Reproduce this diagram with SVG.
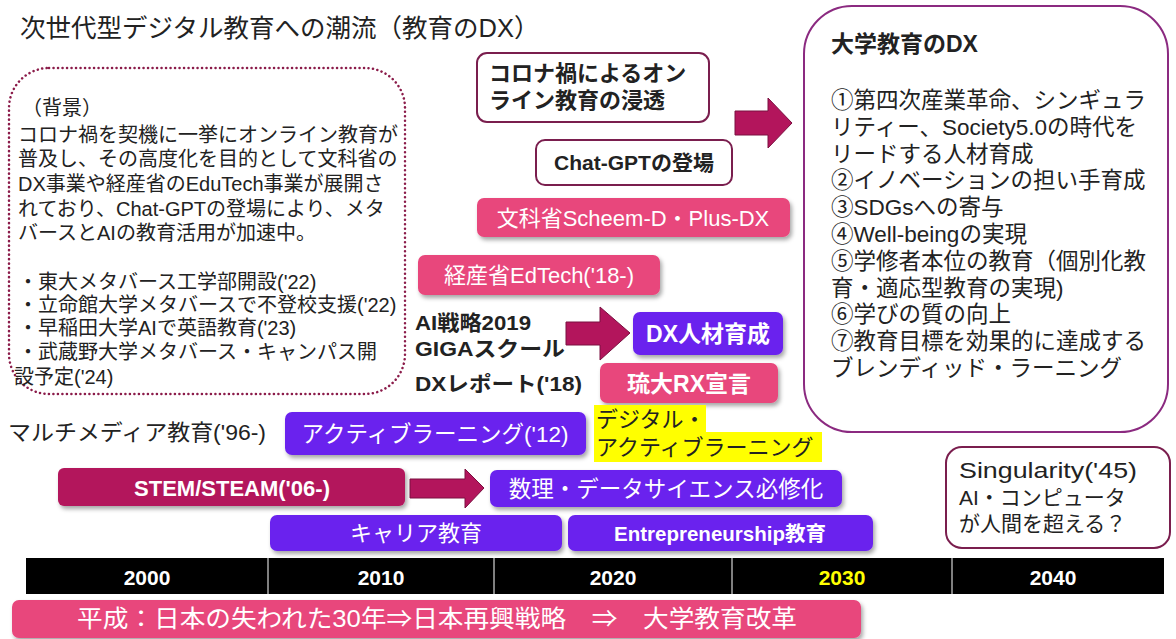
<svg xmlns="http://www.w3.org/2000/svg" width="1176" height="639" viewBox="0 0 1176 639">
<defs>
<filter id="sh" x="-10%" y="-20%" width="125%" height="150%">
<feDropShadow dx="2" dy="3" stdDeviation="2" flood-color="#000" flood-opacity="0.35"/>
</filter>
<style>
text{font-family:"Liberation Sans","Noto Sans CJK JP",sans-serif}
.t{fill:#222}
.w{fill:#fff}
.b{font-weight:700}
.m{text-anchor:middle}
.pink{fill:#E8467C}
.purple{fill:#6A22EE}
.crim{fill:#B3155C}
.wbox{fill:#fff;stroke:#7A1E4E;stroke-width:2}
.arrow{fill:#B3155C;stroke:#7A1040;stroke-width:1}
</style>
</defs>
<rect width="1176" height="639" fill="#fff"/>

<g id="title">
<text x="20" y="37" font-size="25.5" class="t">次世代型デジタル教育への潮流（教育のDX）</text>
</g>

<g id="background-box">
<rect x="9" y="68" width="396" height="326" rx="40" fill="none" stroke="#8B1C4A" stroke-width="2.5" stroke-dasharray="0.1 4.4" stroke-linecap="round"/>
<g font-size="20" class="t">
<text x="22" y="115">（背景）</text>
<text x="18" y="142">コロナ禍を契機に一挙にオンライン教育が</text>
<text x="18" y="166">普及し、その高度化を目的として文科省の</text>
<text x="18" y="191">DX事業や経産省のEduTech事業が展開さ</text>
<text x="18" y="216">れており、Chat-GPTの登場により、メタ</text>
<text x="18" y="240">バースとAIの教育活用が加速中。</text>
<text x="18" y="289">・東大メタバース工学部開設('22)</text>
<text x="18" y="312">・立命館大学メタバースで不登校支援('22)</text>
<text x="18" y="335">・早稲田大学AIで英語教育('23)</text>
<text x="18" y="359">・武蔵野大学メタバース・キャンパス開</text>
<text x="14" y="384">設予定('24)</text>
</g>
</g>

<g id="corona">
<rect x="477" y="53" width="232" height="69" rx="10" class="wbox"/>
<text x="489" y="81" font-size="22" class="t b">コロナ禍によるオン</text>
<text x="489" y="108" font-size="22" class="t b">ライン教育の浸透</text>
</g>

<g id="chatgpt">
<rect x="536" y="140" width="196" height="45" rx="9" class="wbox"/>
<text x="634" y="170" font-size="21" class="t b m">Chat-GPTの登場</text>
</g>

<g id="mext">
<rect x="477" y="198" width="313" height="39" rx="7" class="pink" filter="url(#sh)"/>
<text x="633" y="226" font-size="22" class="w m">文科省Scheem-D・Plus-DX</text>
</g>

<g id="meti">
<rect x="418" y="255" width="242" height="40" rx="7" class="pink" filter="url(#sh)"/>
<text x="539" y="283" font-size="22" class="w m">経産省EdTech('18-)</text>
</g>

<g id="policies">
<text x="415" y="330" font-size="21" class="t b" textLength="116" lengthAdjust="spacingAndGlyphs">AI戦略2019</text>
<text x="415" y="356" font-size="21" class="t b" textLength="150" lengthAdjust="spacingAndGlyphs">GIGAスクール</text>
<text x="415" y="391" font-size="21" class="t b" textLength="167" lengthAdjust="spacingAndGlyphs">DXレポート('18)</text>
</g>

<g id="dx-jinzai">
<rect x="633" y="312" width="150" height="43" rx="7" class="purple" filter="url(#sh)"/>
<text x="708" y="342" font-size="23" class="w b m">DX人材育成</text>
</g>

<g id="ryudai">
<rect x="600" y="363" width="178" height="40" rx="7" class="pink" filter="url(#sh)"/>
<text x="689" y="392" font-size="23" class="w b m">琉大RX宣言</text>
</g>

<g id="univ-dx">
<rect x="804" y="6" width="364" height="426" rx="48" fill="#fff" stroke="#8B2A80" stroke-width="2"/>
<text x="831" y="52" font-size="23" class="t b">大学教育のDX</text>
<g font-size="22.5" class="t">
<text x="831" y="108">①第四次産業革命、シンギュラ</text>
<text x="831" y="135">リティー、Society5.0の時代を</text>
<text x="831" y="162">リードする人材育成</text>
<text x="831" y="188">②イノベーションの担い手育成</text>
<text x="831" y="215">③SDGsへの寄与</text>
<text x="831" y="242">④Well-beingの実現</text>
<text x="831" y="269">⑤学修者本位の教育（個別化教</text>
<text x="831" y="296">育・適応型教育の実現)</text>
<text x="831" y="322">⑥学びの質の向上</text>
<text x="831" y="349">⑦教育目標を効果的に達成する</text>
<text x="831" y="376">ブレンディッド・ラーニング</text>
</g>
</g>

<g id="multimedia">
<text x="8" y="440" font-size="22" class="t" textLength="258" lengthAdjust="spacingAndGlyphs">マルチメディア教育('96-)</text>
</g>

<g id="active-learning">
<rect x="285" y="412" width="301" height="43" rx="7" class="purple" filter="url(#sh)"/>
<text x="435" y="442" font-size="22.5" class="w m">アクティブラーニング('12)</text>
</g>

<g id="digital-al">
<rect x="594" y="405" width="112" height="28" fill="#FFFF00"/>
<rect x="594" y="432" width="228" height="30" fill="#FFFF00"/>
<text x="596" y="427" font-size="22" class="t">デジタル・</text>
<text x="596" y="455" font-size="22" class="t">アクティブラーニング</text>
</g>

<g id="stem">
<rect x="58" y="468" width="347" height="38" rx="6" class="crim" filter="url(#sh)"/>
<text x="232" y="496" font-size="22" class="w b m">STEM/STEAM('06-)</text>
</g>

<g id="datascience">
<rect x="490" y="470" width="352" height="37" rx="7" class="purple" filter="url(#sh)"/>
<text x="666" y="497" font-size="22.5" class="w m">数理・データサイエンス必修化</text>
</g>

<g id="career">
<rect x="270" y="515" width="292" height="36" rx="7" class="purple" filter="url(#sh)"/>
<text x="416" y="541" font-size="22" class="w m">キャリア教育</text>
</g>

<g id="entrepreneurship">
<rect x="568" y="515" width="305" height="36" rx="7" class="purple" filter="url(#sh)"/>
<text x="720" y="541" font-size="20.5" class="w b m">Entrepreneurship教育</text>
</g>

<g id="singularity">
<rect x="946" y="447" width="224" height="101" rx="16" class="wbox"/>
<text x="959" y="478" font-size="22" class="t" textLength="178" lengthAdjust="spacingAndGlyphs">Singularity('45)</text>
<text x="959" y="505" font-size="21" class="t">AI・コンピュータ</text>
<text x="959" y="531" font-size="21" class="t">が人間を超える？</text>
</g>

<g id="timeline">
<rect x="26" y="558" width="1138" height="36" fill="#000"/>
<g stroke="#fff" stroke-width="1">
<line x1="268" y1="558" x2="268" y2="594"/>
<line x1="494" y1="558" x2="494" y2="594"/>
<line x1="732" y1="558" x2="732" y2="594"/>
<line x1="952" y1="558" x2="952" y2="594"/>
</g>
<g font-size="21" class="b m">
<text x="147" y="585" class="w">2000</text>
<text x="381" y="585" class="w">2010</text>
<text x="613" y="585" class="w">2020</text>
<text x="842" y="585" fill="#FFFF00">2030</text>
<text x="1053" y="585" class="w">2040</text>
</g>
</g>

<g id="heisei">
<rect x="12" y="600" width="849" height="38" rx="7" class="pink" filter="url(#sh)"/>
<text x="437" y="627" font-size="24" class="w m" textLength="720" lengthAdjust="spacingAndGlyphs">平成：日本の失われた30年⇒日本再興戦略　⇒　大学教育改革</text>
</g>

<g id="connectors">
<polygon points="735,111 768,111 768,98 792,123 768,148 768,135 735,135" class="arrow"/>
<polygon points="566,322 600,322 600,307 630,333 600,360 600,345 566,345" class="arrow"/>
<polygon points="410,479 465,479 465,469 484,488 465,508 465,498 410,498" class="arrow"/>
</g>
</svg>
